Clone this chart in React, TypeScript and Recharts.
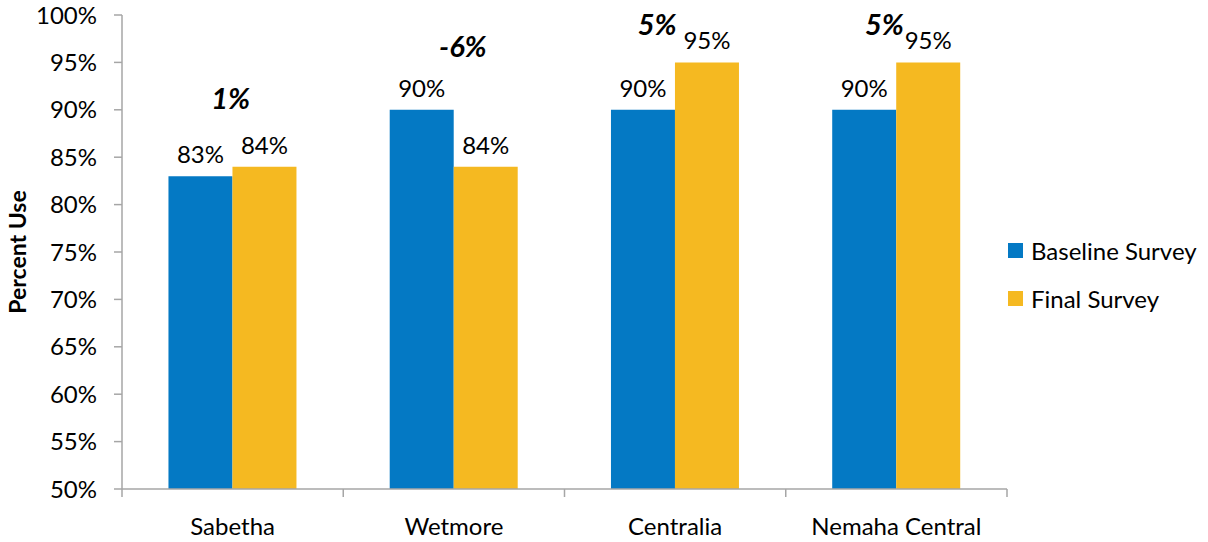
import React from 'react';
import { ComposedChart, Bar, XAxis, YAxis, LabelList, ReferenceDot, Label } from 'recharts';

const categories = ['Sabetha', 'Wetmore', 'Centralia', 'Nemaha Central'];
const baseline = [83, 90, 90, 90];
const finalSurvey = [84, 84, 95, 95];
const changeLabels = ['1%', '-6%', '5%', '5%'];
const changeLevel = [91.2, 96.7, 99.0, 99.0];
const changeShift = [-2, 9, -18, -12];
const yTicks = [50, 55, 60, 65, 70, 75, 80, 85, 90, 95, 100];

const BLUE = '#0479C4';
const GOLD = '#F5B921';
const AXIS = '#A6A6A6';
const FONT = 'Lato, "Liberation Sans", sans-serif';

const data = categories.map((c, i) => ({ name: c, baseline: baseline[i], final: finalSurvey[i] }));

const PLOT_LEFT = 122;
const PLOT_RIGHT = 1007;
const PLOT_BOTTOM = 489;
const HALF_BAND = (PLOT_RIGHT - PLOT_LEFT) / categories.length / 2;

const XTick = (props: any) => {
  const { x, payload, index } = props;
  const last = index === categories.length - 1;
  return (
    <g>
      <line x1={x - HALF_BAND} x2={x - HALF_BAND} y1={PLOT_BOTTOM} y2={PLOT_BOTTOM + 8} stroke={AXIS} strokeWidth={1.5} />
      {last && <line x1={x + HALF_BAND} x2={x + HALF_BAND} y1={PLOT_BOTTOM} y2={PLOT_BOTTOM + 8} stroke={AXIS} strokeWidth={1.5} />}
      <text x={x} y={PLOT_BOTTOM + 46} textAnchor="middle" fontSize={24} fontFamily={FONT} fill="#000">{payload.value}</text>
    </g>
  );
};

const AxisTitle = () => (
  <text x={26} y={252} transform="rotate(-90 26 252)" textAnchor="middle" fontSize={23} fontWeight={700} fontFamily={FONT} fill="#000">
    Percent Use
  </text>
);

const LegendBox = () => (
  <div style={{ position: 'absolute', left: 1008, top: 235, fontFamily: FONT, fontSize: 24, color: '#000' }}>
    {[{ c: BLUE, t: 'Baseline Survey' }, { c: GOLD, t: 'Final Survey' }].map((it, i) => (
      <div key={i} style={{ display: 'flex', alignItems: 'center', height: 30, marginBottom: i === 0 ? 18 : 0, whiteSpace: 'nowrap' }}>
        <div style={{ width: 15, height: 15, background: it.c, marginRight: 8 }} />
        <span>{it.t}</span>
      </div>
    ))}
  </div>
);

export default function App() {
  return (
    <div style={{ position: 'absolute', left: 0, top: 0, width: 1208, height: 542, background: '#fff' }}>
      <ComposedChart
        width={1208}
        height={542}
        data={data}
        margin={{ top: 15, right: 1208 - PLOT_RIGHT, bottom: 0, left: 0 }}
        barCategoryGap="21%"
        barGap={0}
      >
        <XAxis
          dataKey="name"
          axisLine={{ stroke: AXIS, strokeWidth: 1.5 }}
          tickLine={false}
          tick={<XTick />}
          height={542 - PLOT_BOTTOM}
          interval={0}
        />
        <YAxis
          domain={[50, 100]}
          ticks={yTicks}
          interval={0}
          width={PLOT_LEFT}
          tickFormatter={(v: number) => `${v}%`}
          axisLine={{ stroke: AXIS, strokeWidth: 1.5 }}
          tickLine={{ stroke: AXIS, strokeWidth: 1.5 }}
          tickSize={8}
          tickMargin={17}
          tick={{ fontSize: 24, fontFamily: FONT, fill: '#000' }}
          allowDataOverflow
          label={<AxisTitle />}
        />
        <Bar dataKey="baseline" fill={BLUE} isAnimationActive={false}>
          <LabelList dataKey="baseline" position="top" offset={13} formatter={(v: any) => `${v}%`}
            style={{ fontSize: 24, fontFamily: FONT, fill: '#000' }} />
        </Bar>
        <Bar dataKey="final" fill={GOLD} isAnimationActive={false}>
          <LabelList dataKey="final" position="top" offset={13} formatter={(v: any) => `${v}%`}
            style={{ fontSize: 24, fontFamily: FONT, fill: '#000' }} />
        </Bar>
        {categories.map((c, i) => (
          <ReferenceDot key={c} x={c} y={changeLevel[i]} r={0} fill="none" stroke="none" ifOverflow="visible">
            <Label
              value={changeLabels[i]}
              position="center"
              dx={changeShift[i]}
              style={{ fontSize: 29, fontWeight: 700, fontStyle: 'italic', fontFamily: FONT, fill: '#000' }}
            />
          </ReferenceDot>
        ))}
      </ComposedChart>
      <LegendBox />
    </div>
  );
}
